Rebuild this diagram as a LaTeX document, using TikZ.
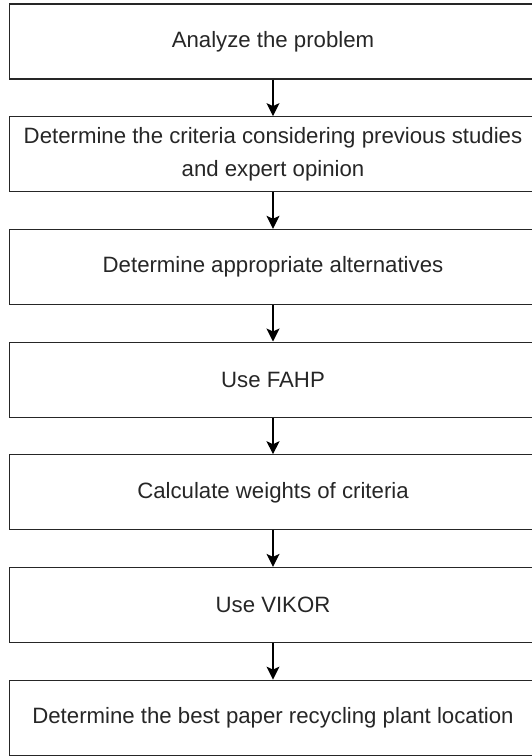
\documentclass[tikz,border=0pt]{standalone}
\usepackage{fontspec}
\setmainfont{Liberation Sans}
\usetikzlibrary{arrows.meta}
\begin{document}
\begin{tikzpicture}[x=1pt,y=-1pt,
  stepbox/.style={draw=black!85, line width=1.2pt, minimum width=527pt, minimum height=75pt,
    inner sep=0pt, align=center, font=\fontsize{22.2}{32.5}\selectfont, text=black!85},
  flow/.style={-{Stealth[width=13pt,length=13pt,inset=3pt]}, line width=1.3pt, draw=black}]
\useasboundingbox (0,0) rectangle (532,756);
\clip (0,0) rectangle (532,756);
\node[stepbox] (b1) at (273,41.5) {Analyze the problem};
\node[stepbox] (b2) at (273,154.2) {Determine the criteria considering previous studies\\and expert opinion};
\node[stepbox] (b3) at (273,266.9) {Determine appropriate alternatives};
\node[stepbox] (b4) at (273,379.6) {Use FAHP};
\node[stepbox] (b5) at (273,492.3) {Calculate weights of criteria};
\node[stepbox] (b6) at (273,605.0) {Use VIKOR};
\node[stepbox] (b7) at (273,717.7) {Determine the best paper recycling plant location};
\draw[flow] (b1.south) -- (b2.north);
\draw[flow] (b2.south) -- (b3.north);
\draw[flow] (b3.south) -- (b4.north);
\draw[flow] (b4.south) -- (b5.north);
\draw[flow] (b5.south) -- (b6.north);
\draw[flow] (b6.south) -- (b7.north);
\end{tikzpicture}
\end{document}
